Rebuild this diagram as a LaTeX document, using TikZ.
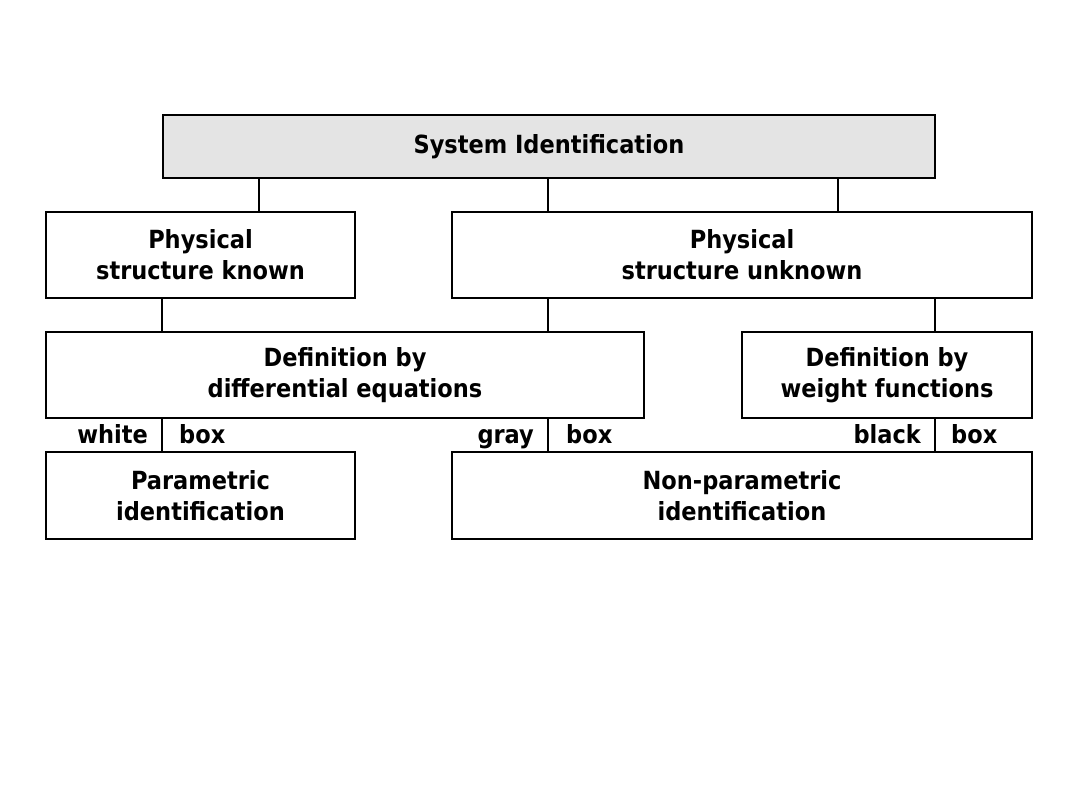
\documentclass[tikz,border=0pt]{standalone}
\usepackage{fontspec}
\setmainfont{DejaVu Sans Condensed}
\begin{document}
\begin{tikzpicture}[x=1pt,y=-1pt,
  box/.style={draw=black,line width=1.6pt,fill=white,align=center,inner sep=0pt,
    font=\fontsize{25}{31}\selectfont\bfseries},
  conn/.style={draw=black,line width=1.4pt},
  lab/.style={inner sep=0pt,font=\fontsize{25}{28}\selectfont\bfseries}]
\useasboundingbox (0,0) rectangle (1080,810);
\node[box,fill={rgb,255:red,228;green,228;blue,228},minimum width=772pt,minimum height=63pt] (top) at (549,146.5) {System Identification};
\node[box,minimum width=309pt,minimum height=86pt] (known) at (200.5,255) {Physical\\structure known};
\node[box,minimum width=580pt,minimum height=86pt] (unknown) at (742,255) {Physical\\structure unknown};
\node[box,minimum width=598pt,minimum height=86pt] (diff) at (345,375) {Definition by\\differential equations};
\node[box,minimum width=290pt,minimum height=86pt] (weight) at (887,375) {Definition by\\weight functions};
\node[box,minimum width=309pt,minimum height=87pt] (param) at (200.5,495.5) {Parametric\\identification};
\node[box,minimum width=580pt,minimum height=87pt] (nonparam) at (742,495.5) {Non-parametric\\identification};
% connectors
\draw[conn] (top.south -| 259,0) -- (known.north -| 259,0);
\draw[conn] (top.south -| 548,0) -- (unknown.north -| 548,0);
\draw[conn] (top.south -| 838,0) -- (unknown.north -| 838,0);
\draw[conn] (known.south -| 162,0) -- (diff.north -| 162,0);
\draw[conn] (unknown.south -| 548,0) -- (diff.north -| 548,0);
\draw[conn] (unknown.south -| 935,0) -- (weight.north -| 935,0);
\draw[conn] (diff.south -| 162,0) -- (param.north -| 162,0);
\draw[conn] (diff.south -| 548,0) -- (nonparam.north -| 548,0);
\draw[conn] (weight.south -| 935,0) -- (nonparam.north -| 935,0);
% labels
\node[lab,anchor=base east] (w1) at (148,443) {white};
\node[lab,anchor=base west] (w2) at (179,443) {box};
\node[lab,anchor=base east] (g1) at (534,443) {gray};
\node[lab,anchor=base west] (g2) at (566,443) {box};
\node[lab,anchor=base east] (b1) at (921,443) {black};
\node[lab,anchor=base west] (b2) at (951,443) {box};
\end{tikzpicture}
\end{document}
